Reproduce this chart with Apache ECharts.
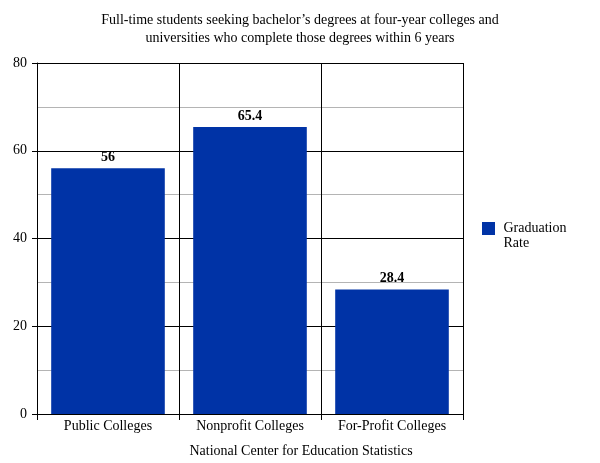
<!DOCTYPE html>
<html>
<head>
<meta charset="utf-8">
<script src="https://cdn.jsdelivr.net/npm/echarts@6/dist/echarts.min.js"></script>
<style>
  html, body { margin: 0; padding: 0; background: #fff; }
  #chart { width: 600px; height: 463px; }
</style>
</head>
<body>
<div id="chart"></div>
<script>
// chart data
var categories = ['Public Colleges', 'Nonprofit Colleges', 'For-Profit Colleges'];
var gradRate = [56, 65.4, 28.4];
var seriesName = 'Graduation Rate';
var titleText = 'Full-time students seeking bachelor\u2019s degrees at four-year colleges and\nuniversities who complete those degrees within 6 years';
var xAxisTitle = 'National Center for Education Statistics';

var font = '"Liberation Serif", "DejaVu Serif", serif';

var myChart = echarts.init(document.getElementById('chart'));
var option = {
    backgroundColor: '#fff',
    animation: false,
    textStyle: { fontFamily: font },
    title: {
        text: titleText,
        left: 'center',
        top: 6,
        textStyle: { fontFamily: font, fontSize: 14, fontWeight: 'normal', color: '#000', lineHeight: 18 }
    },
    legend: {
        left: 482,
        top: 206,
        padding: 0,
        orient: 'vertical',
        itemWidth: 13,
        itemHeight: 13,
        itemGap: 8,
        icon: 'rect',
        data: [seriesName],
        // blank first line so the swatch lines up with "Graduation"
        formatter: function () { return ' \n Graduation\n Rate'; },
        textStyle: { fontFamily: font, fontSize: 14, color: '#000', lineHeight: 15 }
    },
    grid: { left: 37, right: 137, top: 63, bottom: 49 },
    xAxis: {
        type: 'category',
        data: categories,
        name: xAxisTitle,
        nameLocation: 'middle',
        nameGap: 30,
        nameTextStyle: { fontFamily: font, fontSize: 14, color: '#000', padding: [0, 0, 0, 102] },
        axisLine: { lineStyle: { color: '#000', width: 1 } },
        axisTick: { show: true, length: 6, lineStyle: { color: '#000' } },
        axisLabel: { fontFamily: font, fontSize: 14, color: '#000', margin: 5 },
        splitLine: { show: true, lineStyle: { color: '#000', width: 1 } }
    },
    yAxis: {
        type: 'value',
        min: 0,
        max: 80,
        interval: 20,
        axisLine: { show: true, lineStyle: { color: '#000', width: 1 } },
        axisTick: { show: true, length: 5, lineStyle: { color: '#000' } },
        axisLabel: { fontFamily: font, fontSize: 14, color: '#000', margin: 10 },
        splitLine: { show: true, lineStyle: { color: '#000', width: 1 } },
        minorTick: { show: false, splitNumber: 2 },
        minorSplitLine: { show: true, lineStyle: { color: '#b4b4b4', width: 1 } }
    },
    series: [{
        name: seriesName,
        type: 'bar',
        data: gradRate,
        barCategoryGap: '20%',
        itemStyle: { color: '#0033a6' },
        label: {
            show: true,
            position: 'top',
            distance: 4,
            fontFamily: font,
            fontSize: 14,
            fontWeight: 'bold',
            color: '#000'
        }
    }]
};
myChart.setOption(option);
</script>
</body>
</html>
